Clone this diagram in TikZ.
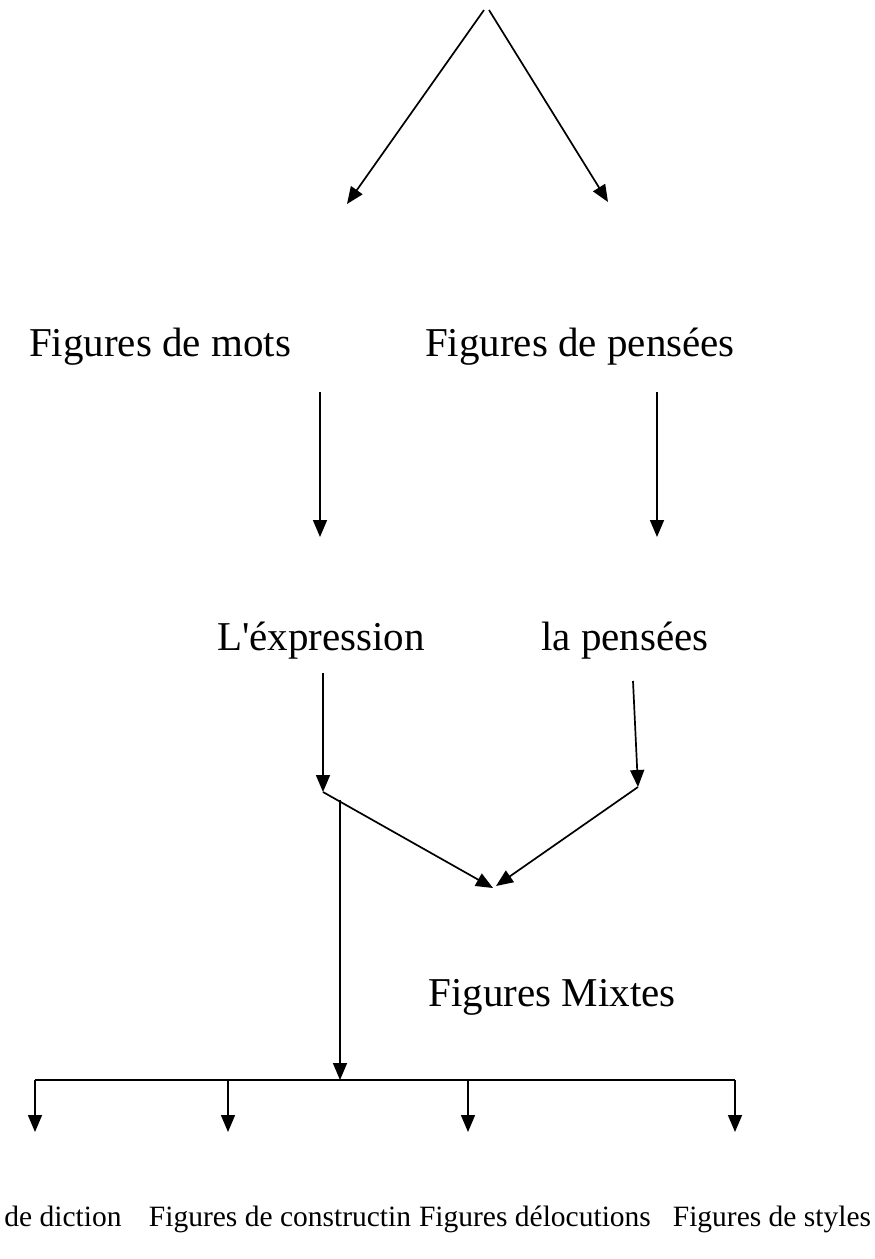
\documentclass[tikz,border=0pt]{standalone}
\usepackage{fontspec}
\setmainfont{Liberation Serif}
\usetikzlibrary{arrows.meta}
\usetikzlibrary{positioning}

\begin{document}
\begin{tikzpicture}[
  x=1pt, y=-1pt,
  figure/.style={inner sep=0pt, anchor=base, font=\fontsize{41}{48}\selectfont},
  kind/.style={inner sep=0pt, anchor=base, font=\fontsize{29.5}{35}\selectfont},
  arr/.style={line width=1.7pt, -{Triangle[length=17pt,width=14pt]}},
  line/.style={line width=1.7pt},
]
\useasboundingbox (0,0) rectangle (875,1259);

% texts
\node (mots)    [figure] at (160,356) {Figures de mots};
\node (pensees) [figure] at (580,356) {Figures de pensées};
\node (expr)    [figure] at (321,650) {L\textquotesingle éxpression};
\node (lapens)  [figure] at (625,650) {la pensées};
\node (mixtes)  [figure] at (552,1006) {Figures Mixtes};
\node (diction) [kind] at (63,1226)  {de diction};
\node (constr)  [kind] at (280,1226) {Figures de constructin};
\node (deloc)   [kind] at (535,1226) {Figures délocutions};
\node (styles)  [kind] at (772,1226) {Figures de styles};

% free ends
\coordinate (apexL) at (484,10);
\coordinate (apexR) at (489,10);
\coordinate (motsIn) at (347,204);
\coordinate (pensIn) at (608,202);
\coordinate (motsOut) at (320,392);
\coordinate (pensOut) at (657,392);
\coordinate (exprIn) at (320,537);
\coordinate (lapIn) at (657,537);
\coordinate (exprOut) at (323,673);
\coordinate (lapOut) at (633,681);
\coordinate (exprEnd) at (323,792);
\coordinate (lapEnd) at (638,787);
\coordinate (mixIn) at (493,888);
\coordinate (mixIn2) at (496,886);
\coordinate (stem) at (340,800);
\coordinate (bar) at (340,1080);
\coordinate (barL) at (35,1080);
\coordinate (barR) at (735,1080);

\draw[arr] (apexL) -- (motsIn);
\draw[arr] (apexR) -- (pensIn);
\draw[arr] (motsOut) -- (exprIn);
\draw[arr] (pensOut) -- (lapIn);
\draw[arr] (exprOut) -- (exprEnd);
\draw[arr] (lapOut) -- (lapEnd);
\draw[arr] (exprEnd) -- (mixIn);
\draw[arr] (lapEnd) -- (mixIn2);
\draw[arr] (stem) -- (bar);
\draw[line] (barL) -- (barR);
\foreach \x/\n in {35/diction,228/constr,468/deloc,735/styles}
  \draw[arr] (\x,1080) -- (\x,1132);
\end{tikzpicture}
\end{document}
